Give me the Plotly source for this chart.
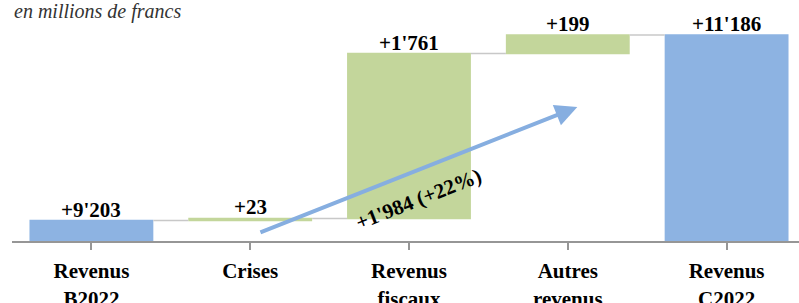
import plotly.graph_objects as go

categories = ["Revenus<br>B2022", "Crises", "Revenus<br>fiscaux", "Autres<br>revenus", "Revenus<br>C2022"]
values = [9203, 23, 1761, 199, 11186]
measures = ["absolute", "relative", "relative", "relative", "total"]
subtitle = "en millions de francs"
change_label = "+1'984 (+22%)"
arrow_from = (1.055, 9070)
arrow_to = (3.06, 10416)
label_pos = (2.062, 9436)

def swiss(v):
    return "+" + f"{v:,}".replace(",", "'")

text_labels = [swiss(v) for v in values]

# top of each bar (running total), used to place the value labels
tops = []
running = 0
for v, m in zip(values, measures):
    if m == "absolute":
        running = v
    elif m == "relative":
        running += v
    tops.append(running)

BLUE = "#8DB3E2"
GREEN = "#C3D69B"
SERIF = "Liberation Serif"

fig = go.Figure()
fig.add_trace(go.Waterfall(
    x=list(range(len(categories))),
    y=values,
    measure=measures,
    width=0.78,
    increasing=dict(marker=dict(color=GREEN)),
    decreasing=dict(marker=dict(color=GREEN)),
    totals=dict(marker=dict(color=BLUE)),
    connector=dict(line=dict(color="rgb(200,200,200)", width=1.5)),
    hoverinfo="skip",
))

annotations = [
    dict(text="<i>" + subtitle + "</i>", xref="paper", yref="paper", x=0, y=1 - 11.5 / 241,
         xanchor="left", yanchor="middle", showarrow=False,
         font=dict(family=SERIF, size=20, color="#333333", style="italic")),
    dict(text="", x=arrow_to[0], y=arrow_to[1], xref="x", yref="y",
         ax=arrow_from[0], ay=arrow_from[1], axref="x", ayref="y",
         showarrow=True, arrowhead=2, arrowsize=1.1, arrowwidth=4,
         arrowcolor="#86AEE0", standoff=0),
    dict(text=change_label, x=label_pos[0], y=label_pos[1], xref="x", yref="y",
         showarrow=False, textangle=-21.5,
         font=dict(family=SERIF, size=21, color="black", weight="bold")),
]
for i, (t, top) in enumerate(zip(text_labels, tops)):
    annotations.append(dict(text=t, x=i, y=top, xref="x", yref="y", yshift=-3,
                            xanchor="center", yanchor="bottom", showarrow=False,
                            font=dict(family=SERIF, size=21, color="black", weight="bold")))

fig.update_layout(
    width=799, height=303,
    margin=dict(l=12, r=0, t=0, b=62, autoexpand=False),
    paper_bgcolor="white", plot_bgcolor="white",
    showlegend=False,
    xaxis=dict(
        automargin=False,
        range=[-0.5, 4.456],
        tickmode="array",
        tickvals=list(range(len(categories))),
        ticktext=categories,
        tickfont=dict(family=SERIF, size=21, color="black", weight="bold"),
        ticklabelstandoff=3,
        showline=True, linecolor="rgb(150,150,150)", linewidth=2,
        ticks="outside", tickson="boundaries", ticklen=7, tickwidth=2,
        tickcolor="rgb(150,150,150)",
        showgrid=False, zeroline=False,
    ),
    yaxis=dict(automargin=False, range=[8985, 11559], visible=False,
               showgrid=False, zeroline=False),
    annotations=annotations,
)

fig.write_html("out.html", config={"displayModeBar": False},
               post_script="document.body.style.margin='0px';")
